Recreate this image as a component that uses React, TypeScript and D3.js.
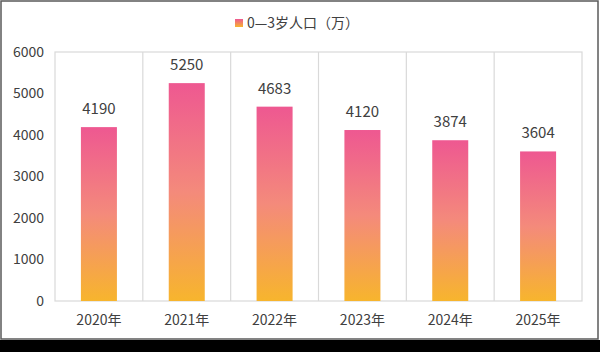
import { scaleBand, scaleLinear } from "d3";

const width = 600;
const height = 352;
const margin = { left: 55, right: 18, top: 52, bottom: 51 };
const innerWidth = width - margin.left - margin.right;
const innerHeight = height - margin.top - margin.bottom;

const years = ["2020年", "2021年", "2022年", "2023年", "2024年", "2025年"];
const population = [4190, 5250, 4683, 4120, 3874, 3604];
const yTicks = [0, 1000, 2000, 3000, 4000, 5000, 6000];
const legendLabel = "0—3岁人口（万）";

const font = "'Noto Sans CJK SC', 'Microsoft YaHei', sans-serif";
const textColor = "#404040";
const gridColor = "#d9d9d9";

export default function App() {
  const x = scaleBand<string>().domain(years).range([0, innerWidth]).paddingInner(0).paddingOuter(0);
  const y = scaleLinear().domain([0, 6000]).range([innerHeight, 0]);
  const barWidth = x.bandwidth() * 0.41;

  return (
    <svg
      width={width}
      height={height}
      viewBox={`0 0 ${width} ${height}`}
      style={{ position: "absolute", left: 0, top: 0, fontFamily: font }}
    >
      <defs>
        <linearGradient id="barFill" x1="0" y1="0" x2="0" y2="1">
          <stop offset="0%" stopColor="#ee5891" />
          <stop offset="50%" stopColor="#f48a7b" />
          <stop offset="100%" stopColor="#f7b52d" />
        </linearGradient>
        <linearGradient id="legendFill" x1="0" y1="0" x2="0" y2="1">
          <stop offset="0%" stopColor="#ee5891" />
          <stop offset="100%" stopColor="#f7b52d" />
        </linearGradient>
      </defs>
      <rect x={0} y={0} width={width} height={height} fill="#000" />
      <rect x={0} y={0} width={width} height={340} fill="#fff" />
      <rect x={1} y={1} width={597} height={338} fill="none" stroke="#5a5a5a" strokeWidth={1.5} />

      {/* legend */}
      <g transform="translate(235, 19)">
        <rect width={8} height={8} fill="url(#legendFill)" />
        <text x={12} y={8.5} fontSize={14} fill={textColor}>
          {legendLabel}
        </text>
      </g>

      <g transform={`translate(${margin.left}, ${margin.top})`}>
        {/* plot frame and category dividers */}
        <rect x={0} y={0} width={innerWidth} height={innerHeight} fill="none" stroke={gridColor} strokeWidth={1.2} />
        {years.slice(1).map((yr) => (
          <line
            key={yr}
            x1={x(yr)}
            x2={x(yr)}
            y1={0}
            y2={innerHeight}
            stroke={gridColor}
            strokeWidth={1.2}
          />
        ))}

        {/* y axis labels */}
        {yTicks.map((t) => (
          <text
            key={t}
            x={-11}
            y={y(t)}
            dy="0.35em"
            textAnchor="end"
            fontSize={14}
            fill={textColor}
          >
            {t}
          </text>
        ))}

        {/* bars */}
        {years.map((yr, i) => {
          const cx = (x(yr) ?? 0) + x.bandwidth() / 2;
          return (
            <g key={yr}>
              <rect
                x={cx - barWidth / 2}
                y={y(population[i])}
                width={barWidth}
                height={innerHeight - y(population[i])}
                fill="url(#barFill)"
              />
              <text
                x={cx}
                y={y(population[i]) - 13}
                textAnchor="middle"
                fontSize={15}
                fill={textColor}
              >
                {population[i]}
              </text>
              <text
                x={cx}
                y={innerHeight + 24}
                textAnchor="middle"
                fontSize={14}
                fill={textColor}
              >
                {yr}
              </text>
            </g>
          );
        })}
      </g>
    </svg>
  );
}
